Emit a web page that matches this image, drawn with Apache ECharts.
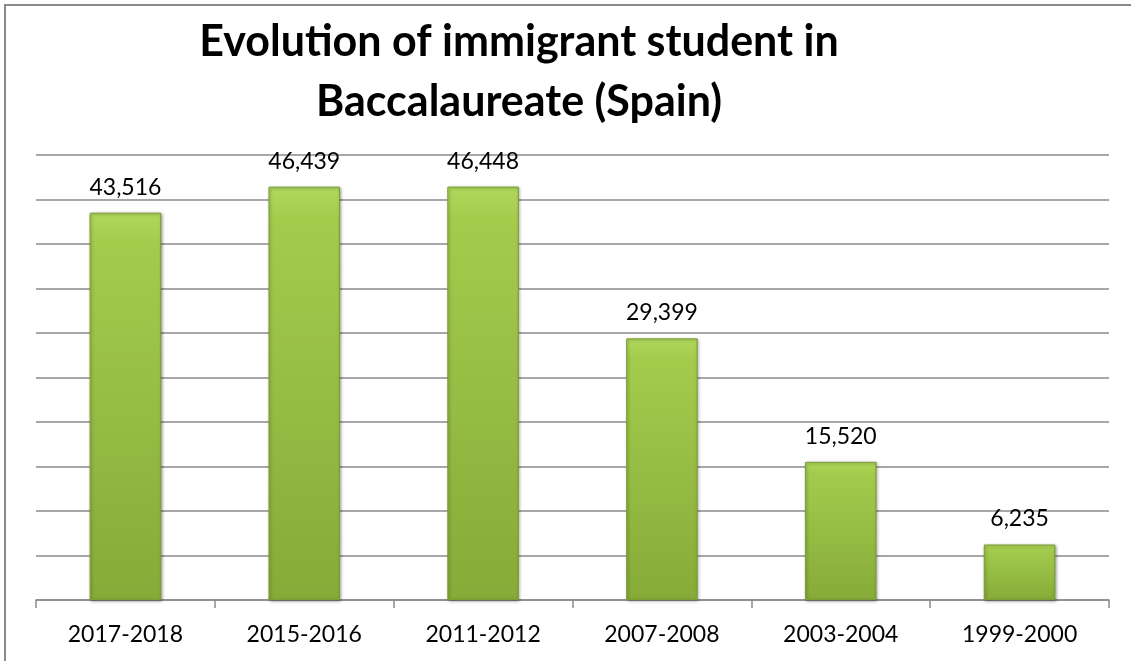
<!DOCTYPE html>
<html>
<head>
<meta charset="utf-8">
<script src="https://cdn.jsdelivr.net/npm/echarts@6/dist/echarts.min.js"></script>
<style>html,body{margin:0;padding:0;background:#fff;}#c{width:1131px;height:661px;}</style>
</head>
<body>
<div id="c"></div>
<script>
const titleLines = ['Evolution of immigrant student in', 'Baccalaureate (Spain)'];
const categories = ['2017-2018', '2015-2016', '2011-2012', '2007-2008', '2003-2004', '1999-2000'];
const students = [43516, 46439, 46448, 29399, 15520, 6235];

const chart = echarts.init(document.getElementById('c'), null, {renderer: 'canvas'});
const font = 'Lato, "Open Sans", sans-serif';
chart.setOption({
  backgroundColor: '#ffffff',
  animation: false,
  title: {
    text: titleLines.join('\n'),
    left: 514, top: 7, textAlign: 'center',
    textStyle: {fontFamily: font, fontWeight: 'bold', fontSize: 43, lineHeight: 60, color: '#000'}
  },
  graphic: [{
    type: 'polyline', z: -1,
    shape: {points: [[5, 680], [5, 5], [1150, 5]]},
    style: {fill: 'none', stroke: '#8a8a8a', lineWidth: 2}
  }],
  grid: {left: 36, right: 22, top: 155, bottom: 61},
  xAxis: {
    type: 'category', data: categories,
    axisLine: {lineStyle: {color: '#8a8a8a', width: 1.5}},
    axisTick: {show: true, length: 8, lineStyle: {color: '#8a8a8a', width: 1.5}},
    axisLabel: {color: '#000', fontFamily: font, fontSize: 23, margin: 23}
  },
  yAxis: {
    type: 'value', min: 0, max: 50000, interval: 5000,
    axisLabel: {show: false}, axisLine: {show: false}, axisTick: {show: false},
    splitLine: {lineStyle: {color: '#8a8a8a', width: 1.5}}
  },
  series: [{
    type: 'bar', data: students, barWidth: '40%',
    itemStyle: {
      color: new echarts.graphic.LinearGradient(0, 0, 0, 1, [
        {offset: 0, color: '#b0d95c'},
        {offset: 0.08, color: '#a3cc4d'},
        {offset: 1, color: '#86ab38'}
      ]),
      borderColor: '#7c9e33', borderWidth: 1,
      shadowColor: 'rgba(0,0,0,0.35)', shadowBlur: 3, shadowOffsetX: 1, shadowOffsetY: 1
    },
    label: {
      show: true, position: 'top', distance: 14, color: '#000',
      fontFamily: font, fontSize: 23,
      formatter: p => p.value.toLocaleString('en-US')
    }
  }]
});
</script>
</body>
</html>
